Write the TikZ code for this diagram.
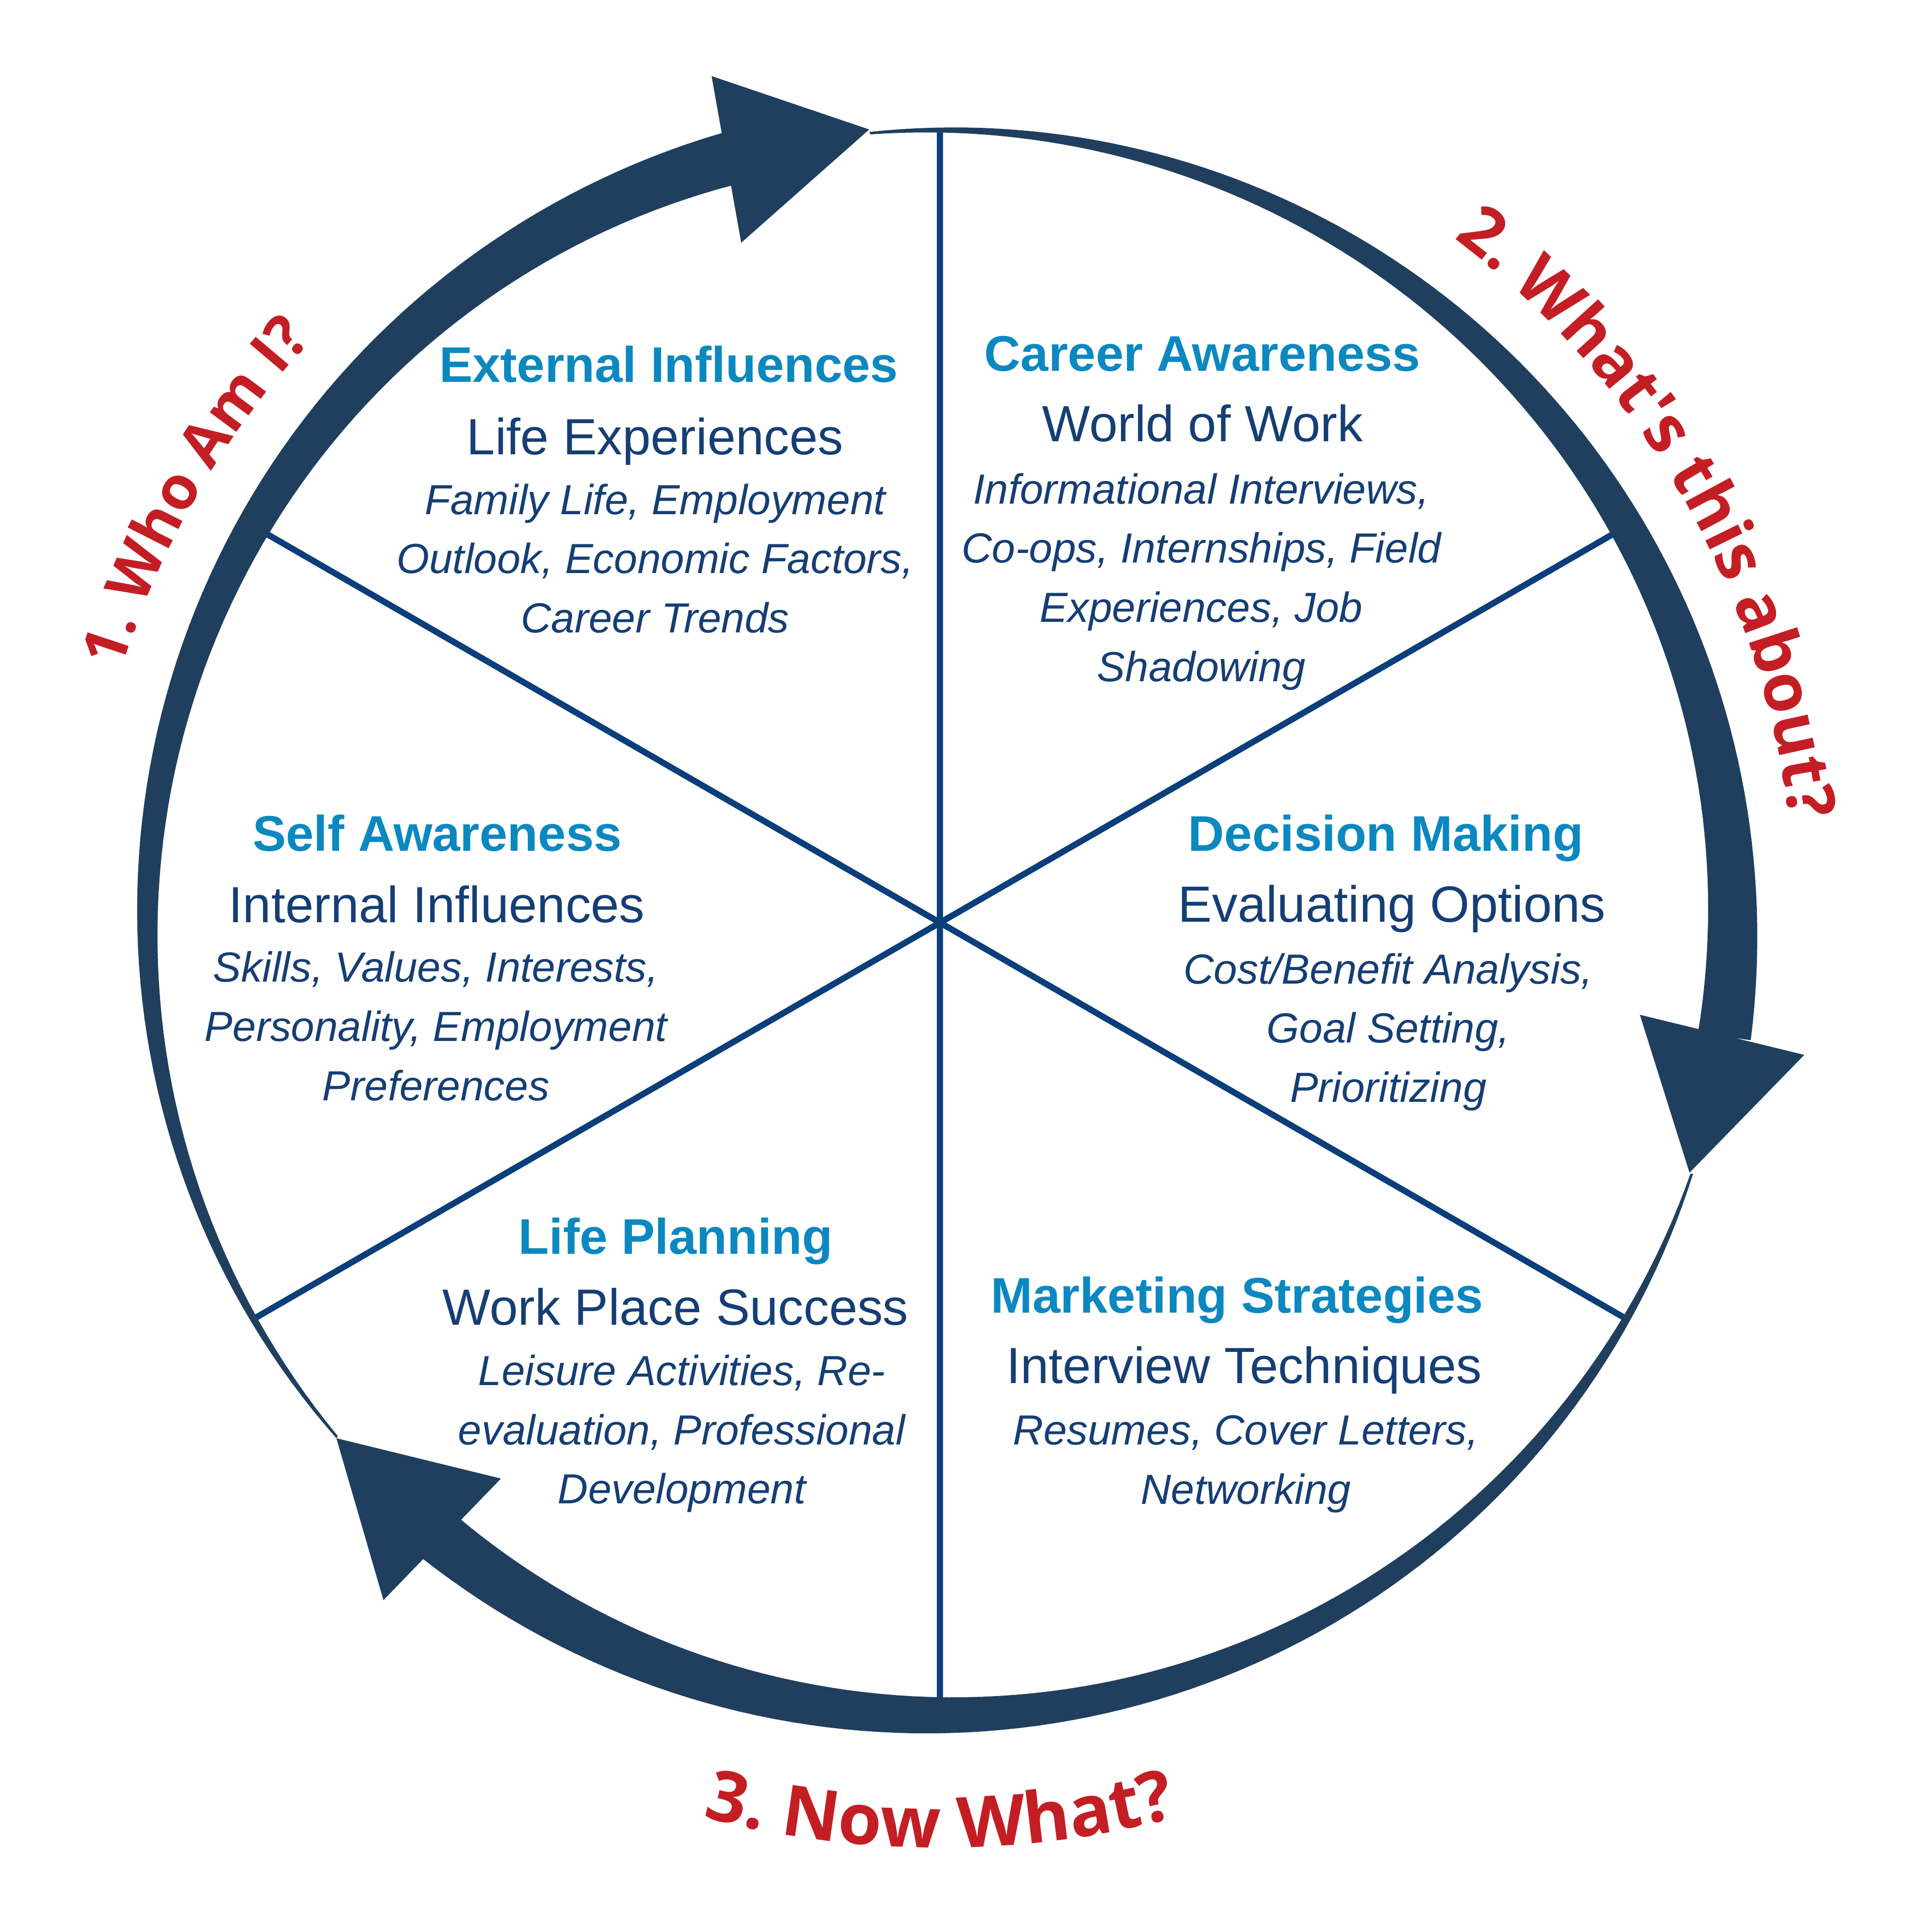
\documentclass[tikz,border=0pt]{standalone}
\usepackage{fontspec}
\setmainfont{Liberation Sans}
\newfontfamily\cuefont{Open Sans}
\usetikzlibrary{decorations.text}
\definecolor{ringnavy}{HTML}{203F5F}
\definecolor{spokenavy}{HTML}{0B3E7A}
\definecolor{headblue}{HTML}{0C88C1}
\definecolor{bodynavy}{HTML}{153E74}
\definecolor{cuered}{HTML}{C41E25}
\newcommand\cueone{\cuefont\bfseries\fontsize{13.9pt}{16pt}\selectfont}
\newcommand\cuetwo{\cuefont\bfseries\fontsize{15.3pt}{18pt}\selectfont}
\newcommand\cuethree{\cuefont\bfseries\fontsize{16.2pt}{19pt}\selectfont}

\begin{document}
\begin{tikzpicture}[
	head/.style={text=headblue, font=\fontsize{11.5pt}{13.6pt}\selectfont\bfseries, anchor=base, inner sep=0pt},
	sub/.style={text=bodynavy, font=\fontsize{11.7pt}{13.6pt}\selectfont, anchor=base, inner sep=0pt},
	detail/.style={text=bodynavy, font=\fontsize{9.67pt}{13.6pt}\selectfont\itshape, align=center, anchor=base, inner sep=0pt},
	spoke/.style={draw=spokenavy, line width=1.42pt},
	ring/.style={fill=ringnavy},
	cue/.style={decorate, decoration={text along path, text align=center, text color=cuered}}
	]
				\fill[white] (-7.59,-8.15) rectangle (8.01,7.45);
				\useasboundingbox (-7.59,-8.15) rectangle (8.01,7.45);
				
				\coordinate (hub) at (0,0);
				\coordinate (rim30) at (30:6.40);
				\coordinate (rim90) at (90:6.40);
				\coordinate (rim150) at (150:6.40);
				\coordinate (rim210) at (210:6.40);
				\coordinate (rim270) at (270:6.40);
				\coordinate (rim330) at (330:6.40);
				\draw[spoke] (hub) -- (rim30) (hub) -- (rim90) (hub) -- (rim150)
				(hub) -- (rim210) (hub) -- (rim270) (hub) -- (rim330);
				
				\fill[ring] plot[domain=0:1, samples=90] ({220.5-115.1*\x}:{6.41+0.205*\x})
				-- plot[domain=0:1, samples=90] ({105.4+115.1*\x}:{6.39-0.205*(1-\x)}) -- cycle;
				\fill[ring] (105.1:7.08) -- (95.1:6.43) -- (106.3:5.72) -- cycle;
				
				\fill[ring] plot[domain=0:1, samples=90] ({95.1-103.4*\x}:{6.41+0.205*\x})
				-- plot[domain=0:1, samples=90] ({-8.3+103.4*\x}:{6.39-0.205*(1-\x)}) -- cycle;
				\fill[ring] (-8.7:7.06) -- (-18.45:6.38) -- (-7.5:5.70) -- cycle;
				
				\fill[ring] plot[domain=0:1, samples=90] ({-18.45-110.75*\x}:{6.41+0.21*\x})
				-- plot[domain=0:1, samples=90] ({-129.2+110.75*\x}:{6.39-0.21*(1-\x)}) -- cycle;
				\fill[ring] (-129.4:7.08) -- (-139.5:6.41) -- (-128.3:5.72) -- cycle;
				
				\node[head] (exthead) at (-2.19,4.366) {External Influences};
				\node[sub] (extsub) at (-2.30,3.78) {Life Experiences};
				\node[detail] (extdet) at (-2.30,2.341) {Family Life, Employment\\ Outlook, Economic Factors,\\ Career Trends};
				
				\node[head] (carhead) at (2.12,4.453) {Career Awareness};
				\node[sub] (carsub) at (2.12,3.885) {World of Work};
				\node[detail] (cardet) at (2.11,1.949) {Informational Interviews,\\ Co-ops, Internships, Field\\ Experiences, Job\\ Shadowing};
				
				\node[head] (selfhead) at (-4.06,0.578) {Self Awareness};
				\node[sub] (selfsub) at (-4.063,0.003) {Internal Influences};
				\node[detail] (selfdet) at (-4.07,-1.436) {Skills, Values, Interests,\\ Personality, Employment\\ Preferences};
				
				\node[head] (dechead) at (3.60,0.577) {Decision Making};
				\node[sub] (decsub) at (3.65,0.004) {Evaluating Options};
				\node[detail] (decdet) at (3.62,-1.449) {Cost/Benefit Analysis,\\ Goal Setting,\\ Prioritizing};
				
				\node[head] (lifehead) at (-2.133,-2.674) {Life Planning};
				\node[sub] (lifesub) at (-2.136,-3.25) {Work Place Success};
				\node[detail] (lifedet) at (-2.085,-4.692) {Leisure Activities, Re-\\ evaluation, Professional\\ Development};
				
				\node[head] (markhead) at (2.40,-3.15) {Marketing Strategies};
				\node[sub] (marksub) at (2.456,-3.72) {Interview Techniques};
				\node[detail] (markdet) at (2.47,-4.693) {Resumes, Cover Letters,\\ Networking};
				
				\path[cue, decoration={text={|\cueone|1. Who Am I?}}] (178:6.92) arc[start angle=178, end angle=122, radius=6.92];
				\path[cue, decoration={text={|\cuetwo|2. What's this about?}}] (62:6.91) arc[start angle=62, end angle=-2, radius=6.91];
				\path[cue, decoration={text={|\cuethree|3. Now What?}}] (245:7.47) arc[start angle=245, end angle=295, radius=7.47];
\end{tikzpicture}
\end{document}
